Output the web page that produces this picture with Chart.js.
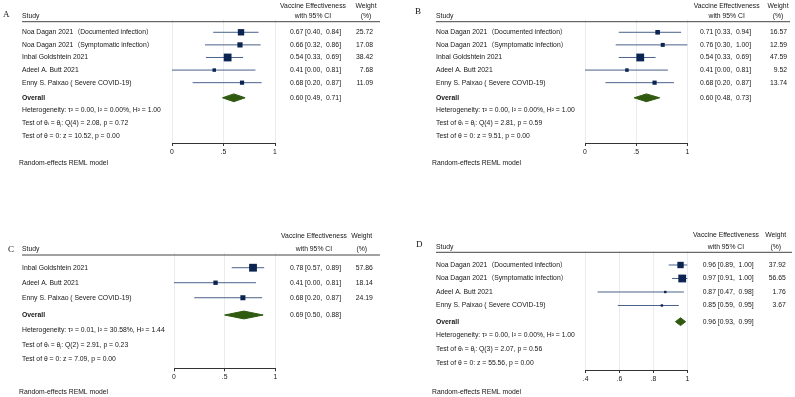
<!DOCTYPE html>
<html lang="en">
<head>
  <meta charset="UTF-8" />
  <title>Forest plots - vaccine effectiveness</title>
  <script src="https://cdn.jsdelivr.net/npm/chart.js"></script>
  <style>
    body { margin: 0; background: #fff; }
    #wrap { position: relative; width: 795px; height: 397px; overflow: hidden; }
    canvas { position: absolute; left: 0; top: 0; }
  </style>
</head>
<body>
<div id="wrap">
  <canvas id="cA" width="795" height="397"></canvas>
  <canvas id="cB" width="795" height="397"></canvas>
  <canvas id="cC" width="795" height="397"></canvas>
  <canvas id="cD" width="795" height="397"></canvas>
</div>

<script>
// ---- data ----
const studiesA = ['Noa Dagan 2021（Documented infection）', 'Noa Dagan 2021（Symptomatic infection）', 'Inbal Goldshtein 2021', 'Adeel A. Butt 2021', 'Enny S. Paixao ( Severe COVID-19)'];
const estA = [0.67, 0.66, 0.54, 0.41, 0.68];
const loA = [0.40, 0.32, 0.33, 0.00, 0.20];
const hiA = [0.84, 0.86, 0.69, 0.81, 0.87];
const weightA = [25.72, 17.08, 38.42, 7.68, 11.09];
const overallA = [0.60, 0.49, 0.71];
const hetA = ['0.00', '0.00', '1.00'];
const qA = ['4', '2.08', '0.72'];
const zA = ['10.52', '0.00'];

const studiesB = studiesA;
const estB = [0.71, 0.76, 0.54, 0.41, 0.68];
const loB = [0.33, 0.30, 0.33, 0.00, 0.20];
const hiB = [0.94, 1.00, 0.69, 0.81, 0.87];
const weightB = [16.57, 12.59, 47.59, 9.52, 13.74];
const overallB = [0.60, 0.48, 0.73];
const hetB = ['0.00', '0.00', '1.00'];
const qB = ['4', '2.81', '0.59'];
const zB = ['9.51', '0.00'];

const studiesC = ['Inbal Goldshtein 2021', 'Adeel A. Butt 2021', 'Enny S. Paixao ( Severe COVID-19)'];
const estC = [0.78, 0.41, 0.68];
const loC = [0.57, 0.00, 0.20];
const hiC = [0.89, 0.81, 0.87];
const weightC = [57.86, 18.14, 24.19];
const overallC = [0.69, 0.50, 0.88];
const hetC = ['0.01', '30.58', '1.44'];
const qC = ['2', '2.91', '0.23'];
const zC = ['7.09', '0.00'];

const studiesD = ['Noa Dagan 2021（Documented infection）', 'Noa Dagan 2021（Symptomatic infection）', 'Adeel A. Butt 2021', 'Enny S. Paixao ( Severe COVID-19)'];
const estD = [0.96, 0.97, 0.87, 0.85];
const loD = [0.89, 0.91, 0.47, 0.59];
const hiD = [1.00, 1.00, 0.98, 0.95];
const weightD = [37.92, 56.65, 1.76, 3.67];
const overallD = [0.96, 0.93, 0.99];
const hetD = ['0.00', '0.00', '1.00'];
const qD = ['3', '2.07', '0.56'];
const zD = ['55.56', '0.00'];

const ticksAB = [0, 0.5, 1];
const ticksD = [0.4, 0.6, 0.8, 1];

// ---- styling ----
const FONT = '"Liberation Sans", Arial, "Noto Sans CJK SC", sans-serif';
const FS = 6.8;
const TXT = '#161616';
const BOX = '#0c2452';
const CI = '#4a6189';
const DIAMOND = '#2f5a10';

function fmtTick(v) {
  if (v === 0 || v === 1) return String(v);
  return String(v).replace(/^0/, '');
}

function ciText(e, l, h) {
  return `${e.toFixed(2)} [${l.toFixed(2)},  ${h.toFixed(2)}]`;
}

function textPlugin(d, L) {
  return {
    id: 'forestText',
    afterDraw(chart) {
      const ctx = chart.ctx;
      const y = chart.scales.y;
      ctx.save();
      ctx.textBaseline = 'middle';
      ctx.fillStyle = TXT;

      ctx.font = `9px "Liberation Serif", serif`;
      ctx.textAlign = 'left';
      ctx.fillText(d.letter, L.letter[0], L.letter[1]);

      ctx.font = `${FS}px ${FONT}`;
      ctx.fillText('Study', L.studyX, L.studyY);
      ctx.textAlign = 'center';
      ctx.fillText('Vaccine Effectiveness', L.veHead, L.headY[0]);
      ctx.fillText('with 95% CI', L.veHead, L.headY[1]);
      ctx.fillText('Weight', L.wHead, L.headY[0]);
      ctx.fillText('(%)', L.wHead, L.headY[1]);

      ctx.strokeStyle = '#444';
      ctx.lineWidth = 1;
      ctx.beginPath();
      ctx.moveTo(L.rule[0], L.rule[2] + 0.5);
      ctx.lineTo(L.rule[1], L.rule[2] + 0.5);
      ctx.stroke();

      d.studies.forEach((s, i) => {
        const py = y.getPixelForValue(i + 1);
        ctx.textAlign = 'left';
        ctx.fillText(s, L.studyX, py);
        ctx.fillText(ciText(d.est[i], d.lo[i], d.hi[i]), L.veX, py);
        ctx.textAlign = 'right';
        ctx.fillText(d.weight[i].toFixed(2), L.wRight, py);
      });

      const oy = y.getPixelForValue(L.overallRow);
      ctx.textAlign = 'left';
      ctx.font = `bold ${FS}px ${FONT}`;
      ctx.fillText('Overall', L.studyX, oy);
      ctx.font = `${FS}px ${FONT}`;
      ctx.fillText(ciText(d.overall[0], d.overall[1], d.overall[2]), L.veX, oy);

      const notes = [
        `Heterogeneity: τ² = ${d.het[0]}, I² = ${d.het[1]}%, H² = ${d.het[2]}`,
        `Test of θᵢ = θⱼ: Q(${d.q[0]}) = ${d.q[1]}, p = ${d.q[2]}`,
        `Test of θ = 0: z = ${d.z[0]}, p = ${d.z[1]}`
      ];
      notes.forEach((t, i) => ctx.fillText(t, L.studyX, y.getPixelForValue(L.noteRows[i])));

      ctx.fillText('Random-effects REML model', L.random[0], L.random[1]);
      ctx.restore();
    }
  };
}

function makePanel(id, d, L) {
  const unitPx = (L.bottom - L.top) / L.ymax;
  const dh = 3.9 / unitPx;
  const wmax = Math.max(...d.weight);
  const datasets = [];

  datasets.push({
    data: d.est.map((e, i) => ({ x: e, y: i + 1 })),
    pointStyle: 'rect',
    pointRadius: d.weight.map(w => Math.max(2.4, 7.8 * Math.sqrt(w / wmax)) / Math.SQRT2),
    backgroundColor: BOX,
    borderWidth: 0,
    showLine: false,
    clip: false
  });

  const [oe, ol, oh] = d.overall;
  datasets.push({
    data: [
      { x: ol, y: L.overallRow }, { x: oe, y: L.overallRow - dh },
      { x: oh, y: L.overallRow }, { x: oe, y: L.overallRow + dh },
      { x: ol, y: L.overallRow }
    ],
    showLine: true,
    fill: 'shape',
    backgroundColor: DIAMOND,
    borderColor: DIAMOND,
    borderWidth: 1,
    pointRadius: 0,
    tension: 0,
    clip: false
  });

  d.est.forEach((e, i) => {
    datasets.push({
      data: [{ x: d.lo[i], y: i + 1 }, { x: d.hi[i], y: i + 1 }],
      showLine: true,
      borderColor: CI,
      borderWidth: 1,
      pointRadius: 0,
      clip: false
    });
  });

  return new Chart(document.getElementById(id), {
    type: 'scatter',
    data: { datasets },
    options: {
      responsive: false,
      animation: false,
      events: [],
      devicePixelRatio: 1,
      layout: {
        padding: { left: L.left, right: 795 - L.right, top: L.top, bottom: 397 - L.bottom - 20 }
      },
      plugins: { legend: { display: false }, tooltip: { enabled: false } },
      scales: {
        x: {
          type: 'linear',
          min: d.ticks[0],
          max: d.ticks[d.ticks.length - 1],
          afterBuildTicks: s => { s.ticks = d.ticks.map(v => ({ value: v })); },
          afterFit: s => { s.height = 20; },
          grid: { color: '#e9edf1', lineWidth: 1, tickLength: 3, tickColor: '#333' },
          border: { color: '#333', width: 1 },
          ticks: {
            color: TXT,
            padding: 2,
            maxRotation: 0,
            font: { family: FONT, size: FS },
            callback: v => fmtTick(v)
          }
        },
        y: { type: 'linear', display: false, reverse: true, min: 0, max: L.ymax }
      }
    },
    plugins: [textPlugin(d, L)]
  });
}

makePanel('cA',
  { letter: 'A', studies: studiesA, est: estA, lo: loA, hi: hiA, weight: weightA, overall: overallA, het: hetA, q: qA, z: zA, ticks: ticksAB },
  { left: 172, right: 275, top: 19.7, bottom: 143, ymax: 9.79, overallRow: 6.2, noteRows: [7.15, 8.2, 9.22],
    letter: [3, 15], studyX: 22, studyY: 16, veHead: 313, wHead: 366, headY: [5.7, 15.7], rule: [22, 380, 21.2],
    veX: 290, wRight: 373, random: [19, 163] });

makePanel('cB',
  { letter: 'B', studies: studiesB, est: estB, lo: loB, hi: hiB, weight: weightB, overall: overallB, het: hetB, q: qB, z: zB, ticks: ticksAB },
  { left: 585, right: 687.3, top: 19.7, bottom: 143, ymax: 9.79, overallRow: 6.2, noteRows: [7.15, 8.2, 9.22],
    letter: [415, 12], studyX: 436, studyY: 16, veHead: 726.7, wHead: 778, headY: [5.7, 15.7], rule: [436, 790, 21.2],
    veX: 700, wRight: 787, random: [432, 163] });

makePanel('cC',
  { letter: 'C', studies: studiesC, est: estC, lo: loC, hi: hiC, weight: weightC, overall: overallC, het: hetC, q: qC, z: zC, ticks: ticksAB },
  { left: 174, right: 275.3, top: 252.7, bottom: 368.3, ymax: 7.7, overallRow: 4.15, noteRows: [5.15, 6.15, 7.1],
    letter: [8, 250], studyX: 22, studyY: 249, veHead: 314, wHead: 361.7, headY: [235.7, 249], rule: [22, 380, 254.5],
    veX: 290, wRight: 372.7, random: [19, 391.7] });

makePanel('cD',
  { letter: 'D', studies: studiesD, est: estD, lo: loD, hi: hiD, weight: weightD, overall: overallD, het: hetD, q: qD, z: zD, ticks: ticksD },
  { left: 585.7, right: 687.3, top: 251.5, bottom: 370, ymax: 8.78, overallRow: 5.2, noteRows: [6.2, 7.24, 8.25],
    letter: [416, 245], studyX: 436, studyY: 246.7, veHead: 726, wHead: 775.7, headY: [235, 246.7], rule: [436, 792, 251.8],
    veX: 702.7, wRight: 785.7, random: [432, 391.7] });
</script>
</body>
</html>
